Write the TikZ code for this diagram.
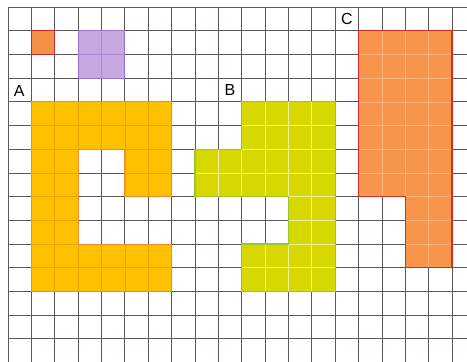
\documentclass[tikz,border=0pt]{standalone}
\usepackage{fontspec}
\setmainfont{Liberation Sans}
\definecolor{gridc}{HTML}{5E5656}
\definecolor{afill}{HTML}{FFC000}
\definecolor{aline}{HTML}{EE8A30}
\definecolor{agrid}{HTML}{E9A300}
\definecolor{bfill}{HTML}{D6D800}
\definecolor{bline}{HTML}{98C530}
\definecolor{bgrid}{HTML}{EFEFA8}
\definecolor{cfill}{HTML}{F7964B}
\definecolor{cline}{HTML}{D22A28}
\definecolor{cgrid}{HTML}{F9B47C}
\definecolor{sfill}{HTML}{F39048}
\definecolor{sline}{HTML}{C4262A}
\definecolor{pfill}{HTML}{C6A8E0}
\definecolor{pline}{HTML}{9A70C8}
\definecolor{pgrid}{HTML}{A888D0}
\tikzset{
  gridline/.style={draw=gridc, line width=0.8pt},
  lbl/.style={font=\fontsize{16}{16}\selectfont, inner sep=0pt, text=black},
  shapeA/.style={fill=afill, draw=aline, line width=0.9pt},
  shapeB/.style={fill=bfill, draw=bline, line width=1.1pt},
  shapeC/.style={fill=cfill, draw=cline, line width=1.5pt, line join=miter},
  sqS/.style={fill=sfill, draw=sline, line width=1.2pt},
  sqP/.style={fill=pfill, draw=pline, line width=1pt}
}
\begin{document}
\begin{tikzpicture}[x=1pt,y=-1pt]
\useasboundingbox (0,0) rectangle (467,362);
\fill[white] (0,0) rectangle (467,362);
\clip (0,0) rectangle (467,362);
\begin{scope}[xshift=8pt, yshift=-7pt, x=23.37pt, y=-23.7pt]
  % grid
  \foreach \k in {0,...,19} \draw[gridline] (\k,0) -- (\k,15.3);
  \foreach \j in {0,...,15} \draw[gridline] (0,\j) -- (19.8,\j);
  % small squares
  \draw[sqS] (1,1) rectangle (2,2);
  \draw[sqP] (3,1) rectangle (5,3);
  \draw[pgrid, line width=0.6pt] (4,1) -- (4,3) (3,2) -- (5,2);
  % shape A
  \def\pathA{(1,4) -- (7,4) -- (7,8) -- (5,8) -- (5,6) -- (3,6) -- (3,10) -- (7,10) -- (7,12) -- (1,12) -- cycle}
  \draw[shapeA] \pathA;
  \begin{scope}
    \clip \pathA;
    \foreach \k in {2,...,6} \draw[agrid, line width=0.6pt] (\k,4) -- (\k,12);
    \foreach \j in {5,...,11} \draw[agrid, line width=0.6pt] (1,\j) -- (7,\j);
  \end{scope}
  \draw[aline, line width=0.9pt] \pathA;
  % shape B
  \def\pathB{(10,4) -- (14,4) -- (14,12) -- (10,12) -- (10,10) -- (12,10) -- (12,8) -- (8,8) -- (8,6) -- (10,6) -- cycle}
  \draw[shapeB] \pathB;
  \begin{scope}
    \clip \pathB;
    \foreach \k in {9,...,13} \draw[bgrid, line width=0.7pt] (\k,4) -- (\k,12);
    \foreach \j in {5,...,11} \draw[bgrid, line width=0.7pt] (8,\j) -- (14,\j);
  \end{scope}
  \draw[bline, line width=1.1pt] \pathB;
  % shape C
  \def\pathC{(15,1) -- (19,1) -- (19,11) -- (17,11) -- (17,8) -- (15,8) -- cycle}
  \draw[shapeC] \pathC;
  \begin{scope}
    \clip \pathC;
    \foreach \k in {16,...,18} \draw[cgrid, line width=0.6pt] (\k,1) -- (\k,11);
    \foreach \j in {2,...,10} \draw[cgrid, line width=0.6pt] (15,\j) -- (19,\j);
  \end{scope}
  \draw[cline, line width=1.5pt] \pathC;
  % labels
  \node[lbl] (labA) at (0.48,3.55) {A};
  \node[lbl] (labB) at (9.5,3.5) {B};
  \node[lbl] (labC) at (14.5,0.52) {C};
\end{scope}
\end{tikzpicture}
\end{document}
